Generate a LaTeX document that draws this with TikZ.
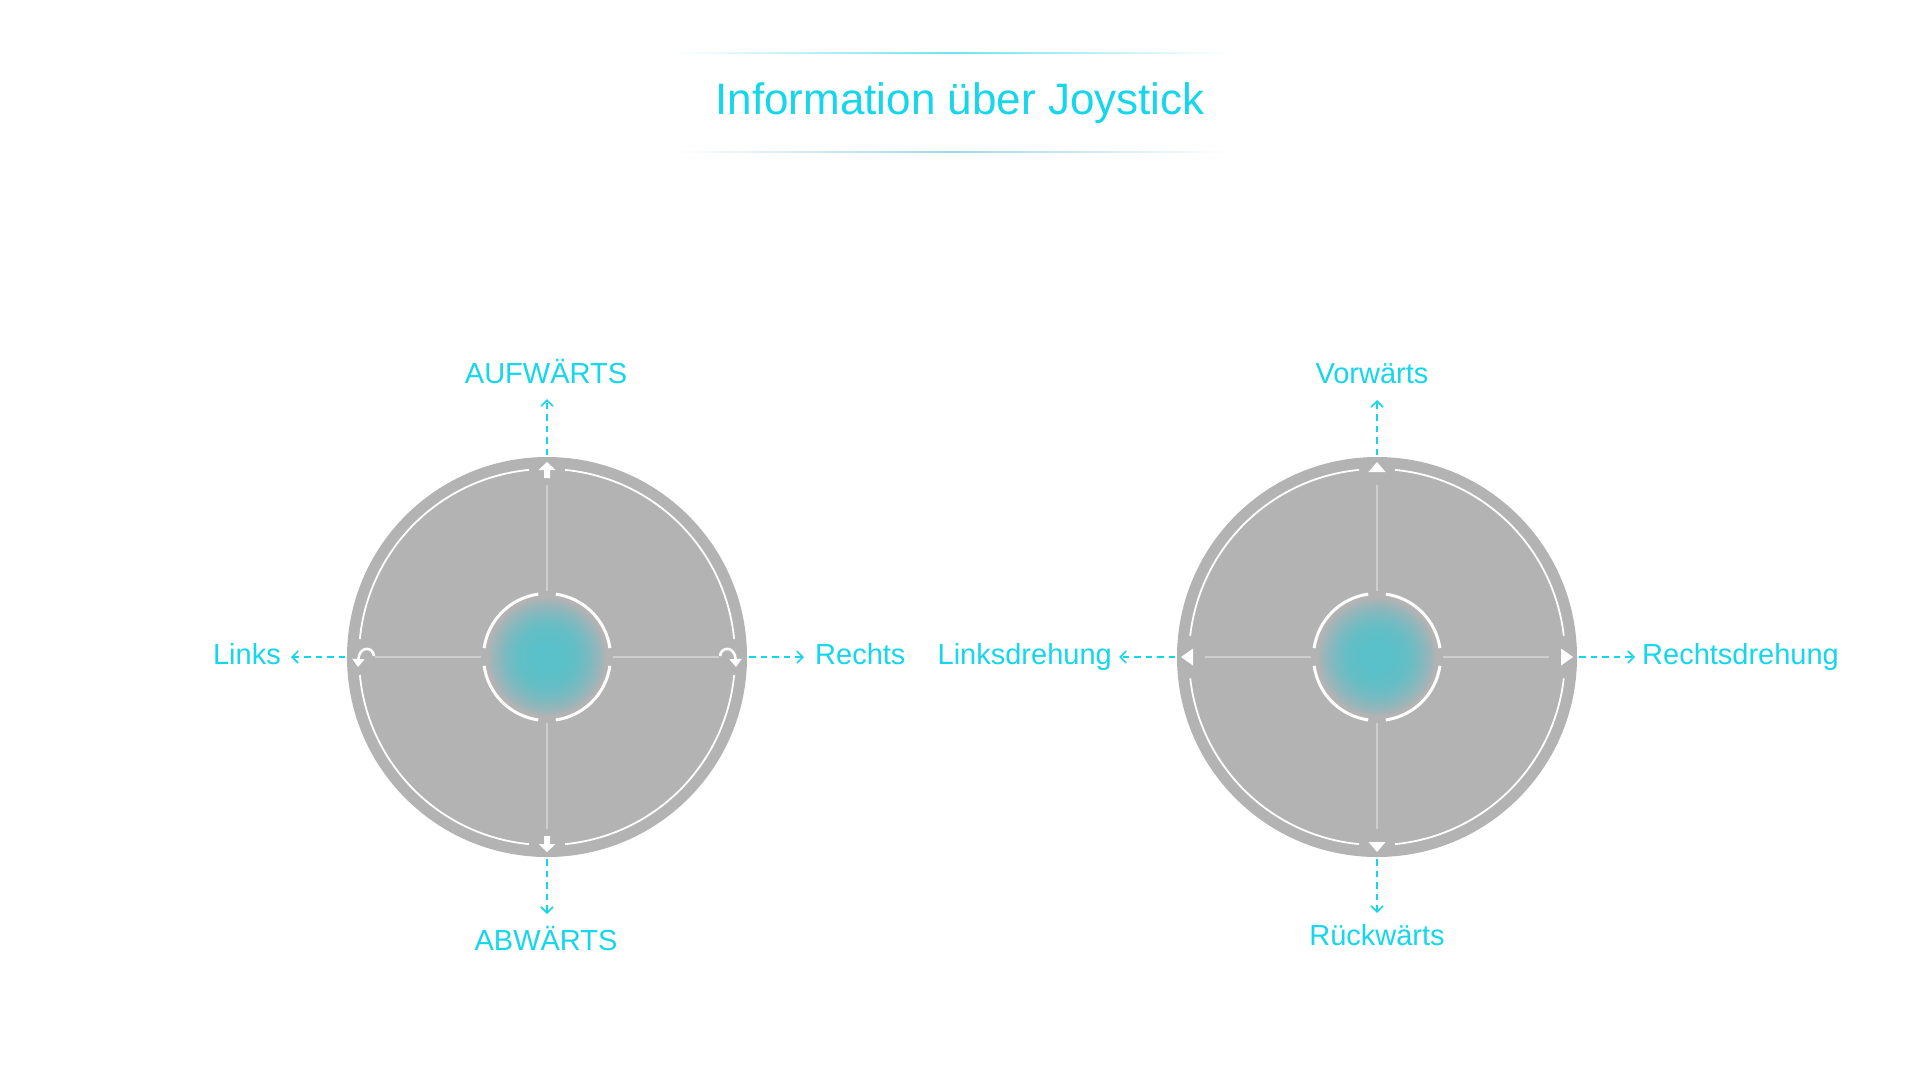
\documentclass[tikz,border=0pt]{standalone}
\usepackage{fontspec}
\setmainfont{Liberation Sans}
\usetikzlibrary{arrows.meta}

\definecolor{accent}{RGB}{22,214,236}
\definecolor{padgray}{RGB}{179,179,179}
\definecolor{crossgray}{RGB}{206,206,206}
\definecolor{glowA}{RGB}{90,192,201}
\definecolor{glowB}{RGB}{100,190,197}
\definecolor{glowC}{RGB}{122,186,192}
\definecolor{glowD}{RGB}{148,182,186}
\definecolor{glowE}{RGB}{170,180,182}
\definecolor{ruleA}{RGB}{110,228,240}
\definecolor{ruleB}{RGB}{160,214,236}

% soft teal glow of the stick knob (25bp = rim of the knob)
\pgfdeclareradialshading{knobglow}{\pgfpoint{0bp}{0bp}}{%
  color(0bp)=(glowA); color(6bp)=(glowA); color(13bp)=(glowB); color(18bp)=(glowC);
  color(22bp)=(glowD); color(25bp)=(glowE); color(50bp)=(glowE)}

\tikzset{
  pad/.style={circle, fill=padgray, minimum size=400pt, inner sep=0pt, outer sep=0pt},
  ringarc/.style={white, line width=1.8pt},
  knobarc/.style={white, line width=3pt},
  crossline/.style={crossgray, line width=1.5pt},
  marker/.style={fill=white},
  spin/.style={white, line width=2.6pt, -{Triangle[length=8pt,width=12pt]}},
  hint/.style={accent, line width=1.6pt, dash pattern=on 6.5pt off 5pt,
    -{Straight Barb[length=6pt,width=12pt,line width=1.6pt]}, shorten <=2pt},
  dirtext/.style={text=accent, font=\fontsize{29}{34}\selectfont, inner sep=0pt},
  headline/.style={text=accent, font=\fontsize{44}{50}\selectfont, inner sep=0pt},
}

\begin{document}
\begin{tikzpicture}[x=1pt,y=-1pt]
\useasboundingbox (0,0) rectangle (1920,1080);
\fill[white] (0,0) rectangle (1920,1080);

% heading with fading rules
\shade[left color=white, right color=white, middle color=ruleA] (673,52.2) rectangle (1230,53.8);
\shade[left color=white, right color=white, middle color=ruleB] (673,151.2) rectangle (1230,152.8);
\node[headline, anchor=base] (title) at (960,114) {Information über Joystick};

% ---------- left stick ----------
\node[pad] (padL) at (547,657) {};
\begin{scope}[shift={(547,657)}]
  \foreach \a in {0,90,180,270}
    \draw[ringarc] (\a+5.5:188) arc[start angle=\a+5.5, end angle=\a+84.5, radius=188];
  \draw[crossline] (0,-172) -- (0,-66) (0,66) -- (0,172) (-172,0) -- (-66,0) (66,0) -- (172,0);
  \shade[shading=knobglow] (0,0) circle (58);
  \foreach \a in {0,90,180,270}
    \draw[knobarc] (\a+8:63.5) arc[start angle=\a+8, end angle=\a+82, radius=63.5];
  % up / down block arrows
  \fill[marker] (0,-195) -- (8.5,-187) -- (3,-187) -- (3,-179) -- (-3,-179) -- (-3,-187) -- (-8.5,-187) -- cycle;
  \fill[marker] (0,195) -- (8.5,187) -- (3,187) -- (3,179) -- (-3,179) -- (-3,187) -- (-8.5,187) -- cycle;
  % turn arrows
  \draw[spin] (-173,-1) .. controls (-174,-11) and (-188,-11) .. (-189,10);
  \draw[spin] (173,-1) .. controls (174,-11) and (188,-11) .. (189,10);
\end{scope}

\coordinate (upLtip) at (547,399);
\coordinate (downLtip) at (547,914);
\coordinate (leftLtip) at (291,657);
\coordinate (rightLtip) at (804,657);
\draw[hint] (padL.north) -- (upLtip);
\draw[hint] (padL.south) -- (downLtip);
\draw[hint] (padL.west) -- (leftLtip);
\draw[hint] (padL.east) -- (rightLtip);
\node[dirtext, anchor=base] (upL) at (546,383) {AUFWÄRTS};
\node[dirtext, anchor=base] (downL) at (546,950) {ABWÄRTS};
\node[dirtext, anchor=base east] (leftL) at (281,664) {Links};
\node[dirtext, anchor=base west] (rightL) at (815,664) {Rechts};

% ---------- right stick ----------
\node[pad] (padR) at (1377,657) {};
\begin{scope}[shift={(1377,657)}]
  \foreach \s/\e in {6.5/84.5, 95.5/173.5, 186.5/264.5, 275.5/353.5}
    \draw[ringarc] (\s:188) arc[start angle=\s, end angle=\e, radius=188];
  \draw[crossline] (0,-172) -- (0,-66) (0,66) -- (0,172) (-172,0) -- (-66,0) (66,0) -- (172,0);
  \shade[shading=knobglow] (0,0) circle (58);
  \foreach \a in {0,90,180,270}
    \draw[knobarc] (\a+8:63.5) arc[start angle=\a+8, end angle=\a+82, radius=63.5];
  % direction triangles
  \fill[marker] (0,-195) -- (8.5,-185) -- (-8.5,-185) -- cycle;
  \fill[marker] (0,195) -- (8.5,185) -- (-8.5,185) -- cycle;
  \fill[marker] (-196,0) -- (-184,-8.5) -- (-184,8.5) -- cycle;
  \fill[marker] (196,0) -- (184,-8.5) -- (184,8.5) -- cycle;
\end{scope}

\coordinate (upRtip) at (1377,400);
\coordinate (downRtip) at (1377,913);
\coordinate (leftRtip) at (1119,657);
\coordinate (rightRtip) at (1635,657);
\draw[hint] (padR.north) -- (upRtip);
\draw[hint] (padR.south) -- (downRtip);
\draw[hint] (padR.west) -- (leftRtip);
\draw[hint] (padR.east) -- (rightRtip);
\node[dirtext, anchor=base] (upR) at (1372,383) {Vorwärts};
\node[dirtext, anchor=base] (downR) at (1377,945) {Rückwärts};
\node[dirtext, anchor=base east] (leftR) at (1112,664) {Linksdrehung};
\node[dirtext, anchor=base west] (rightR) at (1642,664) {Rechtsdrehung};
\end{tikzpicture}
\end{document}
